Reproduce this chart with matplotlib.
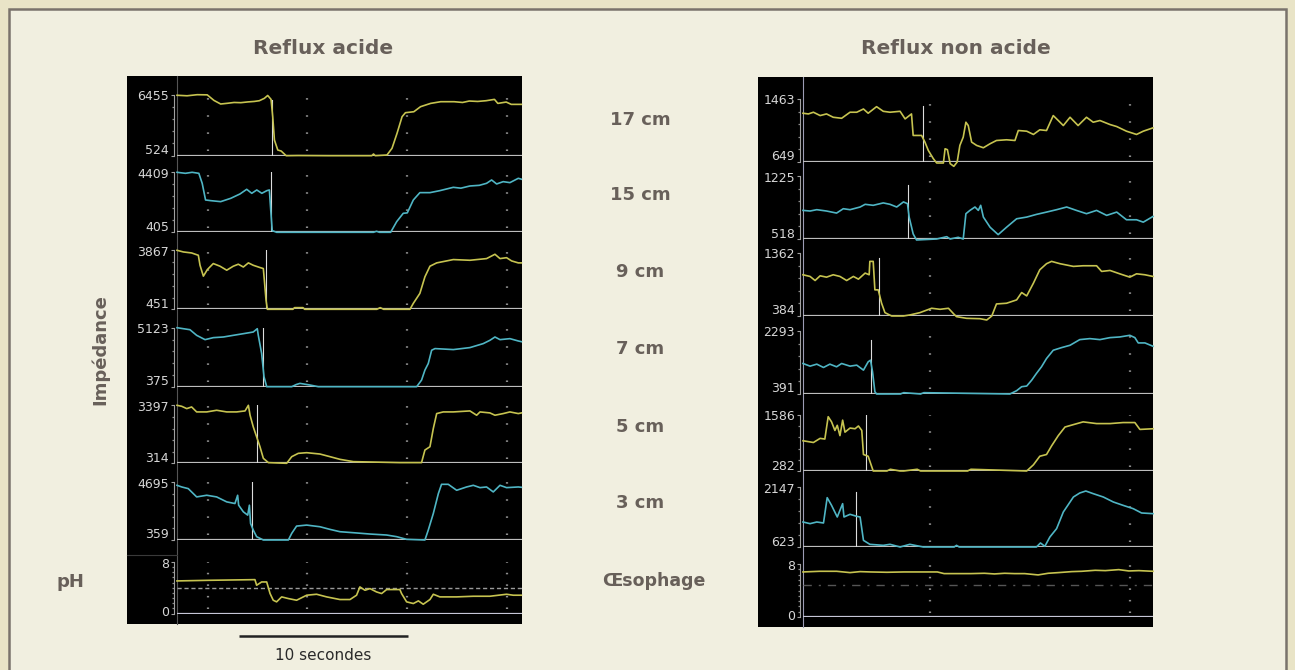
import matplotlib
matplotlib.use("Agg")
import matplotlib.pyplot as plt
from matplotlib.patches import Rectangle

# ---------------------------------------------------------------- data
# time in seconds, impedance in ohm, pH units
levels = ["17 cm", "15 cm", "9 cm", "7 cm", "5 cm", "3 cm"]

# --- Reflux acide
acid_t_17 = [0, 0.6, 1.2, 1.8, 2.2, 2.6, 3.0, 3.4, 3.8, 4.2, 4.6, 4.9, 5.2, 5.4, 5.6, 5.7, 5.8, 6.0, 6.2, 6.5,
             7.2, 9.0, 11.6, 11.7, 11.8, 12.5, 12.8, 13.1, 13.4, 13.6, 14.1, 14.5, 15.1, 15.7, 16.5, 17.0, 17.4,
             17.9, 18.4, 18.9, 19.1, 19.6, 19.9, 20.5]
acid_z_17 = [6400, 6350, 6455, 6440, 5900, 5550, 5620, 5700, 5680, 5750, 5800, 5870, 6100, 6380, 6000, 4300,
             2050, 1075, 980, 524, 540, 524, 524, 690, 524, 590, 1240, 2700, 4316, 4705, 4800, 5290, 5610, 5774,
             5774, 5700, 5840, 5800, 5870, 6000, 5610, 5740, 5515, 5515]
acid_t_15 = [0, 0.5, 0.9, 1.3, 1.5, 1.7, 2.0, 2.6, 3.2, 3.75, 4.15, 4.45, 4.75, 5.05, 5.35, 5.5, 5.58, 5.67, 5.93,
             11.7, 11.88, 12.05, 12.72, 13.08, 13.47, 13.71, 14.07, 14.46, 15.06, 15.65, 16.45, 16.9, 17.44, 18.0,
             18.43, 18.73, 19.03, 19.42, 19.82, 20.32, 20.5]
acid_z_15 = [4409, 4341, 4409, 4341, 3674, 2562, 2518, 2451, 2673, 2963, 3274, 3007, 3230, 3007, 3185, 3230, 1895,
             516, 405, 405, 472, 405, 405, 1117, 1673, 1700, 2562, 3052, 3052, 3185, 3407, 3350, 3496, 3540, 3674,
             3897, 3630, 3785, 3720, 4008, 3950]
acid_t_9 = [0, 0.38, 0.87, 1.27, 1.37, 1.57, 1.81, 2.16, 2.56, 2.96, 3.35, 3.65, 3.95, 4.25, 4.54, 4.94, 5.14, 5.2,
            5.3, 5.38, 6.9, 7.0, 7.5, 7.6, 11.9, 12.1, 12.3, 13.87, 14.07, 14.46, 14.76, 15.06, 15.46, 16.45, 17.44,
            18.43, 18.93, 19.23, 19.62, 19.92, 20.32, 20.5]
acid_z_9 = [3867, 3771, 3713, 3579, 3003, 2370, 2754, 3099, 2946, 2715, 2946, 3061, 2900, 3138, 3000, 2869, 2810,
            2140, 988, 451, 451, 547, 547, 451, 451, 547, 451, 451, 796, 1372, 2332, 2946, 3138, 3330, 3290, 3387,
            3637, 3387, 3440, 3253, 3138, 3138]
acid_t_7 = [0, 0.38, 0.77, 1.17, 1.67, 2.16, 2.76, 3.35, 3.95, 4.54, 4.78, 4.84, 5.04, 5.18, 5.34, 6.83, 7.1, 7.32,
            7.92, 8.41, 14.27, 14.56, 14.76, 14.96, 15.16, 15.36, 16.45, 17.44, 18.23, 18.63, 18.93, 19.23, 19.82,
            20.32, 20.5]
acid_z_7 = [5123, 5042, 4962, 4509, 4162, 4322, 4375, 4509, 4642, 4776, 5042, 4509, 3042, 1175, 375, 375, 550, 642,
            509, 375, 375, 908, 1709, 2242, 3309, 3442, 3362, 3522, 3842, 4109, 4375, 4162, 4242, 4055, 4000]
acid_t_5 = [0, 0.28, 0.58, 0.87, 1.17, 1.77, 2.36, 2.96, 3.55, 4.05, 4.25, 4.35, 4.54, 4.74, 4.94, 5.14, 5.44, 6.53,
            6.83, 7.22, 7.72, 8.51, 9.11, 9.70, 10.50, 13.27, 14.56, 14.76, 15.06, 15.26, 15.46, 15.85, 16.45, 17.44,
            17.84, 18.04, 18.63, 18.93, 19.42, 19.82, 20.32, 20.5]
acid_z_5 = [3397, 3344, 3221, 3309, 3045, 3045, 3133, 3045, 3045, 3098, 3397, 2869, 2252, 1724, 1195, 578, 349, 314,
            666, 843, 878, 807, 666, 525, 402, 350, 350, 1019, 1195, 2164, 2957, 3045, 3045, 3098, 2869, 3045, 2992,
            2869, 2957, 3045, 2957, 2990]
acid_t_3 = [0, 0.28, 0.67, 1.17, 1.77, 2.36, 2.96, 3.45, 3.61, 3.67, 3.95, 4.21, 4.31, 4.38, 4.54, 4.74, 5.14, 6.63,
            6.83, 7.12, 7.72, 8.51, 9.11, 9.70, 10.50, 11.49, 12.48, 13.08, 13.67, 14.76, 14.96, 15.26, 15.56, 15.75,
            16.15, 16.65, 17.24, 17.64, 18.04, 18.43, 18.83, 19.23, 19.62, 20.32, 20.5]
acid_z_3 = [4448, 4324, 4200, 3580, 3704, 3580, 3209, 3085, 3704, 2961, 2465, 2218, 2961, 1598, 1102, 607, 359, 359,
            855, 1400, 1474, 1350, 1152, 979, 904, 805, 731, 607, 408, 359, 1102, 2341, 3828, 4522, 4522, 4076, 4324,
            4448, 4274, 4324, 3952, 4448, 4274, 4324, 4300]
acid_zmin = [524, 405, 451, 375, 314, 359]
acid_zmax = [6455, 4409, 3867, 5123, 3397, 4695]
acid_event_t = [5.64, 5.60, 5.28, 5.14, 4.74, 4.48]
acid_event_top = [5940, 4409, 3867, 5123, 3397, 4695]
acid_grid_t = [1.85, 7.74, 13.69, 19.64]

acid_ph_t = [0, 1.96, 4.64, 4.74, 5.04, 5.34, 5.54, 5.73, 5.93, 6.23, 6.63, 7.12, 7.72, 8.31, 8.91, 9.70, 10.30,
             10.69, 10.89, 11.19, 11.49, 11.88, 12.18, 12.48, 13.27, 13.37, 13.67, 14.07, 14.37, 14.66, 15.06, 15.26,
             15.65, 16.65, 17.64, 18.63, 19.62, 20.02, 20.5]
acid_ph = [5.06, 5.16, 5.26, 4.39, 4.90, 4.90, 3.10, 2.06, 1.81, 2.58, 2.32, 2.06, 2.84, 2.99, 2.58, 2.17, 2.17,
           2.84, 4.13, 3.61, 3.87, 3.35, 3.10, 3.72, 3.72, 3.10, 1.81, 1.55, 1.96, 1.44, 2.17, 2.99, 2.58, 2.58, 2.68,
           2.68, 2.99, 2.84, 2.84]
acid_ph_threshold = 4.0

# --- Reflux non acide
non_t_17 = [0, 0.16, 0.31, 0.51, 0.70, 0.90, 1.15, 1.40, 1.60, 1.80, 1.94, 2.19, 2.39, 2.59, 2.89, 3.04, 3.23, 3.28,
            3.53, 3.63, 3.73, 3.88, 3.98, 4.18, 4.23, 4.30, 4.38, 4.49, 4.59, 4.67, 4.77, 4.85, 4.92, 5.02, 5.17,
            5.37, 5.57, 5.76, 6.06, 6.31, 6.41, 6.66, 6.86, 7.05, 7.25, 7.45, 7.60, 7.75, 7.95, 8.19, 8.44, 8.64,
            8.84, 9.14, 9.34, 9.63, 9.93, 10.13, 10.42]
non_z_17 = [1279, 1270, 1292, 1249, 1270, 1227, 1214, 1292, 1292, 1334, 1279, 1364, 1304, 1292, 1304, 1206, 1270, 992,
            992, 906, 799, 692, 636, 636, 820, 808, 628, 593, 649, 863, 970, 1163, 1120, 906, 863, 833, 885, 927, 936,
            927, 1056, 1047, 1005, 1065, 1056, 1249, 1185, 1120, 1227, 1120, 1227, 1163, 1185, 1133, 1107, 1047,
            1005, 1047, 1090]
non_t_15 = [0, 0.21, 0.41, 0.70, 1.00, 1.20, 1.40, 1.70, 1.85, 2.09, 2.39, 2.59, 2.79, 2.99, 3.11, 3.16, 3.28, 3.38,
            3.98, 4.28, 4.38, 4.62, 4.77, 4.85, 4.97, 5.12, 5.22, 5.29, 5.37, 5.57, 5.81, 6.06, 6.36, 6.66, 6.95,
            7.25, 7.55, 7.85, 8.14, 8.44, 8.74, 9.04, 9.34, 9.63, 9.93, 10.13, 10.42]
non_z_15 = [839, 832, 847, 832, 809, 858, 847, 877, 907, 896, 923, 907, 877, 934, 915, 764, 575, 507, 518, 544, 518,
            537, 518, 802, 839, 877, 839, 896, 764, 650, 567, 650, 745, 764, 794, 820, 847, 877, 839, 802, 839, 783,
            820, 734, 734, 707, 771]
non_t_9 = [0, 0.21, 0.36, 0.51, 0.70, 0.90, 1.10, 1.30, 1.50, 1.65, 1.85, 1.97, 1.99, 2.09, 2.14, 2.24, 2.34, 2.44,
           2.64, 2.99, 3.18, 3.48, 3.83, 4.08, 4.33, 4.49, 4.57, 4.87, 5.27, 5.47, 5.62, 5.76, 6.06, 6.36, 6.51, 6.66,
           6.86, 7.05, 7.25, 7.40, 7.65, 8.05, 8.34, 8.74, 8.89, 9.14, 9.43, 9.73, 9.93, 10.18, 10.42]
non_z_9 = [1024, 998, 935, 1008, 987, 1024, 998, 935, 998, 956, 1050, 1024, 1232, 1232, 790, 790, 582, 436, 384, 384,
           400, 436, 504, 488, 504, 415, 374, 348, 342, 322, 384, 571, 582, 634, 748, 696, 894, 1102, 1196, 1232,
           1196, 1154, 1164, 1164, 1076, 1091, 1039, 987, 1039, 1024, 998]
non_t_7 = [0, 0.21, 0.41, 0.61, 0.80, 1.00, 1.15, 1.40, 1.60, 1.80, 1.94, 2.01, 2.07, 2.14, 2.19, 2.9, 3.0, 3.5, 3.6,
           6.16, 6.36, 6.51, 6.66, 6.81, 6.95, 7.10, 7.25, 7.45, 7.70, 7.95, 8.24, 8.54, 8.84, 9.14, 9.43, 9.73,
           9.88, 9.98, 10.18, 10.42]
non_z_7 = [1312, 1232, 1292, 1192, 1292, 1212, 1312, 1232, 1262, 1112, 1362, 1412, 1062, 461, 391, 391, 431, 391,
           431, 391, 491, 611, 631, 811, 1012, 1212, 1462, 1712, 1792, 1862, 2033, 2063, 2033, 2093, 2113, 2163,
           2093, 1933, 1933, 1832]
non_t_5 = [0, 0.31, 0.51, 0.65, 0.75, 0.85, 0.95, 1.02, 1.10, 1.18, 1.25, 1.40, 1.55, 1.65, 1.75, 1.80, 1.94, 2.09,
           2.5, 2.6, 2.89, 3.0, 3.4, 3.5, 4.9, 5.0, 6.66, 6.86, 7.05, 7.25, 7.40, 7.60, 7.80, 8.05, 8.34, 8.74, 9.14,
           9.53, 9.88, 10.03, 10.42]
non_z_5 = [986, 946, 1042, 1026, 1546, 1426, 1226, 1346, 1106, 1466, 1186, 1282, 1266, 1330, 1226, 666, 626, 282,
           282, 322, 282, 282, 322, 282, 282, 322, 282, 426, 626, 666, 866, 1106, 1306, 1362, 1426, 1386, 1386,
           1410, 1410, 1250, 1266]
non_t_3 = [0, 0.21, 0.41, 0.61, 0.72, 0.85, 1.02, 1.18, 1.22, 1.40, 1.60, 1.70, 1.80, 1.99, 2.39, 2.59, 2.89, 3.18,
           3.58, 4.5, 4.57, 4.65, 6.95, 7.07, 7.20, 7.35, 7.55, 7.75, 8.05, 8.24, 8.42, 8.64, 8.94, 9.24, 9.53,
           9.83, 10.08, 10.42]
non_z_3 = [1258, 1216, 1258, 1233, 1876, 1681, 1385, 1724, 1385, 1453, 1402, 1385, 792, 691, 665, 691, 623, 691,
           623, 623, 665, 623, 623, 725, 640, 877, 1089, 1512, 1893, 1995, 2045, 1978, 1893, 1766, 1681, 1597,
           1487, 1470]
non_zmin = [649, 518, 384, 391, 282, 623]
non_zmax = [1463, 1225, 1362, 2293, 1586, 2147]
non_event_t = [3.56, 3.14, 2.25, 2.01, 1.87, 1.58]
non_event_top = [1373, 1126, 1284, 2027, 1586, 2025]
non_grid_t = [3.78, 9.73]

non_ph_t = [0, 0.5, 1.0, 1.4, 1.7, 2.0, 2.5, 3.0, 3.5, 4.0, 4.2, 4.6, 5.0, 5.4, 5.7, 6.0, 6.3, 6.6, 7.0, 7.3, 7.6,
            8.0, 8.3, 8.7, 9.0, 9.4, 9.7, 10.0, 10.42]
non_ph = [6.8, 6.9, 6.9, 6.7, 6.85, 6.8, 6.75, 6.8, 6.8, 6.8, 6.55, 6.55, 6.55, 6.6, 6.5, 6.6, 6.55, 6.55, 6.35,
          6.6, 6.7, 6.85, 6.9, 7.05, 7.0, 7.15, 6.95, 7.0, 6.9]
non_ph_threshold = 4.8

ph_min, ph_max = 0, 8
acid_tmax = 20.54
non_tmax = 10.42

# ---------------------------------------------------------------- style / layout (pixels)
W, H = 1295, 670
TXT = "#68605a"
YEL = "#c6c350"
CYA = "#4fb5c4"
series_colors = [YEL, CYA, YEL, CYA, YEL, CYA]

left_axis_x, left_right_x = 177, 522
left_base = [155.7, 232.3, 309.3, 386.7, 463.3, 540.0]
left_h = [61, 60, 59, 59, 58, 58]
right_axis_x, right_right_x = 803, 1153
right_base = [162, 239, 316, 394, 471, 547]
right_h = [63, 63, 63, 63, 56, 60]

plt.rcParams["font.family"] = ["DejaVu Sans"]

fig = plt.figure(figsize=(W / 100, H / 100), dpi=100, facecolor="#e9e4c7")

bg = fig.add_axes([0, 0, 1, 1])
bg.set_xlim(0, W)
bg.set_ylim(H, 0)
bg.axis("off")
bg.add_patch(Rectangle((9, 9), 1277, 700, facecolor="#f1efe0", edgecolor="#7a736c", lw=1.8))
bg.add_patch(Rectangle((127, 76), 395, 548, facecolor="black", edgecolor="none"))
bg.add_patch(Rectangle((758, 77), 395, 550, facecolor="black", edgecolor="none"))
bg.plot([176.5, 176.5], [76, 624], color="#555555", lw=0.8)
bg.plot([802.5, 802.5], [77, 627], color="#9c9cb4", lw=0.8)
bg.plot([127, 177], [555, 555], color="#3a3a3a", lw=0.8)


def rect_px(x0, ytop, x1, ybot):
    return [x0 / W, 1 - ybot / H, (x1 - x0) / W, (ybot - ytop) / H]


def setup_axis(ax, vmin, vmax, nminor):
    ax.patch.set_alpha(0)
    for s in ["top", "right", "bottom"]:
        ax.spines[s].set_visible(False)
    ax.spines["left"].set_position(("outward", 2.5))
    ax.spines["left"].set_color("#a0a0a0")
    ax.spines["left"].set_linewidth(0.8)
    ax.set_xticks([])
    ax.set_yticks([vmin, vmax])
    ax.set_yticklabels([])
    step = (vmax - vmin) / nminor
    ax.set_yticks([vmin + k * step for k in range(1, nminor)], minor=True)
    ax.tick_params(axis="y", which="major", length=2.5, width=0.8, color="#a0a0a0", direction="out")
    ax.tick_params(axis="y", which="minor", length=1.2, width=0.9, color="#8a8a8a", direction="out")


def ylabel(ax, val, text, dy):
    ax.annotate(text, xy=(0, val), xycoords=("axes fraction", "data"), xytext=(-8, dy),
                textcoords="offset pixels", ha="right", va="center", fontsize=9, color="#d6d6d6")


def impedance_panel(x0, x1, base, h, t, z, vmin, vmax, color, grid_t, tmax, ev_t, ev_top):
    ax = fig.add_axes(rect_px(x0, base - h, x1, base))
    ax.set_xlim(0, tmax)
    ax.set_ylim(vmin, vmax)
    setup_axis(ax, vmin, vmax, 5)
    ax.axhline(vmin, color="#bdbdbd", lw=1.6, zorder=1)
    for g in grid_t:
        ax.axvline(g, ymin=0.08, ymax=1.0, color="#8c8c8c", lw=1.6, ls=(0, (0.7, 7)), zorder=1)
    ax.plot([ev_t, ev_t], [vmin, ev_top], color="#dcdcdc", lw=0.8, zorder=2)
    ax.plot(t, z, color=color, lw=1.2, clip_on=False, zorder=3)
    ylabel(ax, vmax, str(vmax), -2)
    ylabel(ax, vmin, str(vmin), 5)
    return ax


def ph_panel(x0, x1, ytop, ybot, t, ph, color, grid_t, tmax, thr, thr_style, thr_color):
    ax = fig.add_axes(rect_px(x0, ytop, x1, ybot))
    ax.set_xlim(0, tmax)
    ax.set_ylim(ph_min, ph_max)
    setup_axis(ax, ph_min, ph_max, 10)
    ax.axhline(ph_min, color="#c6c6d6", lw=1.6, zorder=1)
    ax.axhline(thr, color=thr_color, lw=1.0, ls=thr_style, zorder=1)
    for g in grid_t:
        ax.axvline(g, ymin=0.08, ymax=1.0, color="#8c8c8c", lw=1.6, ls=(0, (0.7, 4.5)), zorder=1)
    ax.plot(t, ph, color=color, lw=1.2, clip_on=False, zorder=3)
    ylabel(ax, ph_max, str(ph_max), -3)
    ylabel(ax, ph_min, str(ph_min), 1)
    return ax


acid_t = [acid_t_17, acid_t_15, acid_t_9, acid_t_7, acid_t_5, acid_t_3]
acid_z = [acid_z_17, acid_z_15, acid_z_9, acid_z_7, acid_z_5, acid_z_3]
non_t = [non_t_17, non_t_15, non_t_9, non_t_7, non_t_5, non_t_3]
non_z = [non_z_17, non_z_15, non_z_9, non_z_7, non_z_5, non_z_3]

for i in range(6):
    impedance_panel(left_axis_x, left_right_x, left_base[i], left_h[i], acid_t[i], acid_z[i],
                    acid_zmin[i], acid_zmax[i], series_colors[i], acid_grid_t, acid_tmax,
                    acid_event_t[i], acid_event_top[i])
    impedance_panel(right_axis_x, right_right_x, right_base[i], right_h[i], non_t[i], non_z[i],
                    non_zmin[i], non_zmax[i], series_colors[i], non_grid_t, non_tmax,
                    non_event_t[i], non_event_top[i])

ph_panel(left_axis_x, left_right_x, 562, 613.5, acid_ph_t, acid_ph, YEL, acid_grid_t, acid_tmax,
         acid_ph_threshold, (0, (3, 2)), "#9a9a9a")
ph_panel(right_axis_x, right_right_x, 564, 617, non_ph_t, non_ph, YEL, non_grid_t, non_tmax,
         non_ph_threshold, (0, (6, 5, 1.5, 5)), "#555555")

# ---------------------------------------------------------------- texts
head_kw = dict(ha="center", va="center", fontsize=14.5, fontweight="bold", color=TXT)
title_kw = dict(ha="center", va="center", fontsize=13, fontweight="bold", color=TXT)
bg.text(323, 49, "Reflux acide", **head_kw)
bg.text(956, 49, "Reflux non acide", **head_kw)
for lab, y in zip(levels, [120, 195, 272, 349, 427, 503]):
    bg.text(640, y, lab, **title_kw)
bg.text(100, 350, "Impédance", rotation=90, **title_kw)
bg.text(70, 582, "pH", **title_kw)
bg.text(654, 581, "Œsophage", ha="center", va="center", fontsize=12.5, fontweight="bold", color=TXT)

bg.plot([239, 408], [636, 636], color="#222222", lw=1.8, solid_capstyle="butt")
bg.text(323, 656, "10 secondes", ha="center", va="center", fontsize=11, color="#2a2a2a")

fig.savefig("out.png", dpi=100, facecolor=fig.get_facecolor())
